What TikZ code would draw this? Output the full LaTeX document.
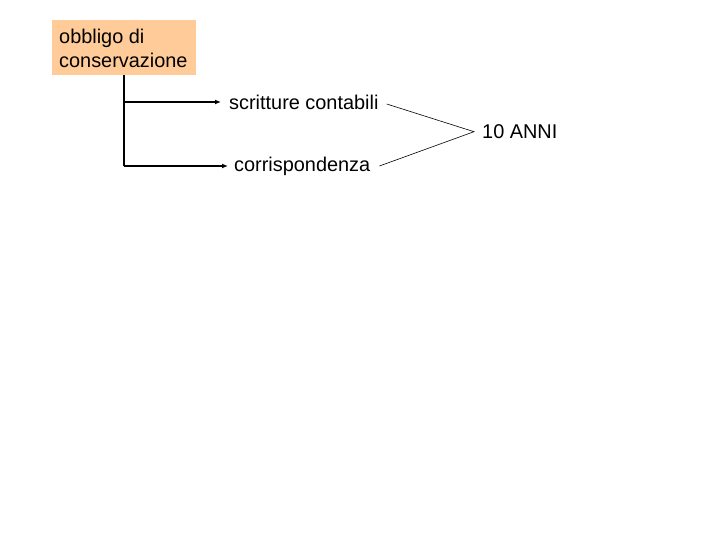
\documentclass[tikz,border=0pt]{standalone}
\usepackage{fontspec}
\setmainfont{Liberation Sans}
\usetikzlibrary{arrows.meta,calc}
\definecolor{peach}{RGB}{255,204,153}
\tikzset{
  lbl/.style={font=\fontsize{19.9}{23}\selectfont, inner sep=0pt, anchor=west},
  arr/.style={line width=1.5pt, -{Latex[length=6pt,width=5pt]}},
  thin/.style={line width=0.6pt}
}
\begin{document}
\begin{tikzpicture}[x=1pt,y=-1pt]
\useasboundingbox (0,0) rectangle (720,540);
\node[fill=peach, minimum width=144pt, minimum height=55pt, inner sep=0pt, anchor=north west] (b) at (52,20) {};
\node[lbl, align=left, anchor=north west, font=\fontsize{19.9}{24}\selectfont] (bt) at (59,28.5) {obbligo di\\conservazione};
\node[lbl] (sc) at (229,102) {scritture contabili};
\node[lbl] (co) at (234,166) {corrispondenza};
\node[lbl] (anni) at (482,132) {10 ANNI};
\coordinate (c1) at (b.south |- sc.west);
\coordinate (apex) at ($(anni.west)+(-8,-0.3)$);
\coordinate (s1) at ($(sc.east)+(8,2)$);
\coordinate (s2) at ($(co.east)+(9,0)$);
\draw[line width=1.5pt] (b.south) -- (b.south |- co.west);
\draw[arr] (b.south |- co.west) -- ($(co.west)+(-6,0)$);
\draw[arr] (c1) -- ($(sc.west)+(-8,0)$);
\draw[thin] (s1) -- (apex) -- (s2);
\end{tikzpicture}
\end{document}
